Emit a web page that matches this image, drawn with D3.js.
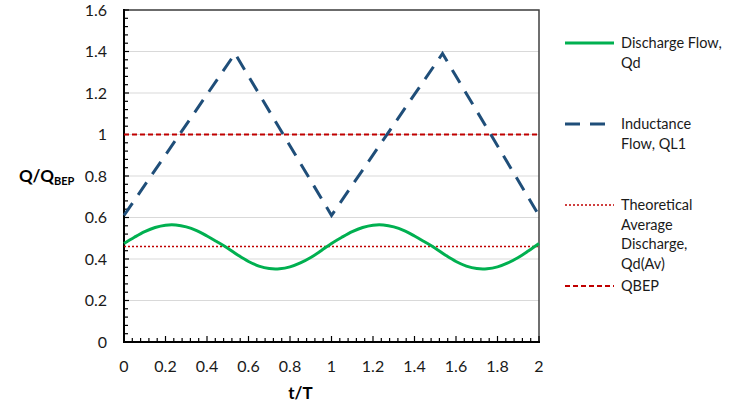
<!DOCTYPE html>
<html><head><meta charset="utf-8">
<script src="https://cdnjs.cloudflare.com/ajax/libs/d3/7.8.5/d3.min.js"></script>
<style>body{margin:0;background:#fff}svg{display:block;font-family:Lato,"Open Sans",sans-serif}</style>
</head><body>
<svg id="c" width="731" height="414"></svg>
<script>
const tDischarge = [0,0.05,0.1,0.15,0.2,0.25,0.3,0.35,0.4,0.45,0.5,0.55,0.6,0.65,0.7,0.75,0.8,0.85,0.9,0.95,1,
  1.05,1.1,1.15,1.2,1.25,1.3,1.35,1.4,1.45,1.5,1.55,1.6,1.65,1.7,1.75,1.8,1.85,1.9,1.95,2];
const qDischarge = [0.475,0.505,0.532,0.552,0.563,0.564,0.555,0.537,0.511,0.482,0.452,0.418,0.388,0.366,0.354,0.353,0.362,0.381,0.407,0.440,0.475,
  0.505,0.532,0.552,0.563,0.564,0.555,0.537,0.511,0.482,0.452,0.418,0.388,0.366,0.354,0.353,0.362,0.381,0.407,0.440,0.475];
const tInductance = [0,0.535,1,1.535,2];
const qInductance = [0.61,1.39,0.61,1.39,0.61];
const qAverage = 0.46;
const qBEP = 1.0;
const yTicks = [0,0.2,0.4,0.6,0.8,1,1.2,1.4,1.6];
const xTicks = [0,0.2,0.4,0.6,0.8,1,1.2,1.4,1.6,1.8,2];
const legendItems = [
  {lines:["Discharge Flow,","Qd"], color:"#00B050", dash:null, w:3},
  {lines:["Inductance","Flow, QL1"], color:"#1F4E79", dash:"15,10", w:3},
  {lines:["Theoretical","Average","Discharge,","Qd(Av)"], color:"#C00000", dash:"2,2", w:1.6},
  {lines:["QBEP"], color:"#C00000", dash:"5,3", w:2.2}
];

const svg = d3.select("#c");
const L=124,R=539,T=10,B=342;
const x = d3.scaleLinear().domain([0,2]).range([L,R]);
const y = d3.scaleLinear().domain([0,1.6]).range([B,T]);

svg.append("g").selectAll("line").data(yTicks.filter(d=>d>0)).join("line")
  .attr("x1",L).attr("x2",R).attr("y1",d=>y(d)).attr("y2",d=>y(d))
  .attr("stroke","#d9d9d9").attr("stroke-width",1);
svg.append("path").attr("d",`M${L},${T}H${R}V${B}`).attr("fill","none").attr("stroke","#404040").attr("stroke-width",1.5);

const minor = d3.range(0,1.6001,0.04);
svg.append("g").selectAll("line").data(minor).join("line")
  .attr("x1",L).attr("x2",d=>L+ (Math.abs(d/0.2-Math.round(d/0.2))<1e-6?5:4))
  .attr("y1",d=>y(d)).attr("y2",d=>y(d)).attr("stroke","#000").attr("stroke-width",1.2);
const minorX = d3.range(0,2.0001,0.04);
svg.append("g").selectAll("line").data(minorX).join("line")
  .attr("y1",B).attr("y2",d=>B-(Math.abs(d/0.2-Math.round(d/0.2))<1e-6?6:4))
  .attr("x1",d=>x(d)).attr("x2",d=>x(d)).attr("stroke","#000").attr("stroke-width",1.2);

svg.append("line").attr("x1",L).attr("x2",L).attr("y1",T-1).attr("y2",B+1).attr("stroke","#000").attr("stroke-width",2);
svg.append("line").attr("x1",L-1).attr("x2",R+1).attr("y1",B).attr("y2",B).attr("stroke","#000").attr("stroke-width",2);

svg.append("g").selectAll("text").data(yTicks).join("text")
  .attr("x",107).attr("y",d=>y(d)).attr("dy","0.36em").attr("text-anchor","end")
  .attr("font-size",16).attr("fill","#1a1a1a").text(d=>d3.format("")(d));
svg.append("g").selectAll("text").data(xTicks).join("text")
  .attr("x",d=>x(d)).attr("y",372).attr("text-anchor","middle")
  .attr("font-size",16).attr("fill","#1a1a1a").text(d=>d3.format("")(d));

svg.append("text").attr("x",x(0.85)).attr("y",399).attr("text-anchor","middle")
  .attr("font-size",17).attr("font-weight","bold").text("t/T");
const yl = svg.append("text").attr("x",19).attr("y",182).attr("font-size",17).attr("font-weight","bold");
yl.append("tspan").text("Q/Q");
yl.append("tspan").attr("font-size",11).attr("dy",3).text("BEP");

svg.append("line").attr("x1",L).attr("x2",R).attr("y1",y(qAverage)).attr("y2",y(qAverage))
  .attr("stroke","#C00000").attr("stroke-width",1.6).attr("stroke-dasharray","2,2");
svg.append("line").attr("x1",L).attr("x2",R).attr("y1",y(qBEP)).attr("y2",y(qBEP))
  .attr("stroke","#C00000").attr("stroke-width",2.2).attr("stroke-dasharray","5,3");
const lineD = d3.line().x(d=>x(d[0])).y(d=>y(d[1])).curve(d3.curveCatmullRom);
svg.append("path").attr("d",lineD(tDischarge.map((t,i)=>[t,qDischarge[i]])))
  .attr("fill","none").attr("stroke","#00B050").attr("stroke-width",3);
const lineI = d3.line().x(d=>x(d[0])).y(d=>y(d[1]));
svg.append("path").attr("d",lineI(tInductance.map((t,i)=>[t,qInductance[i]])))
  .attr("fill","none").attr("stroke","#1F4E79").attr("stroke-width",3).attr("stroke-dasharray","15,10");

const ly = [43,124,205,286];
legendItems.forEach((it,i)=>{
  const g = svg.append("g");
  g.append("line").attr("x1",565).attr("x2",614).attr("y1",ly[i]).attr("y2",ly[i])
    .attr("stroke",it.color).attr("stroke-width",it.w).attr("stroke-dasharray",it.dash);
  it.lines.forEach((s,j)=>{
    g.append("text").attr("x",621).attr("y",ly[i]+j*19.5).attr("dy","0.36em")
      .attr("font-size",14.5).attr("fill","#1a1a1a").text(s);
  });
});
</script>
</body></html>
